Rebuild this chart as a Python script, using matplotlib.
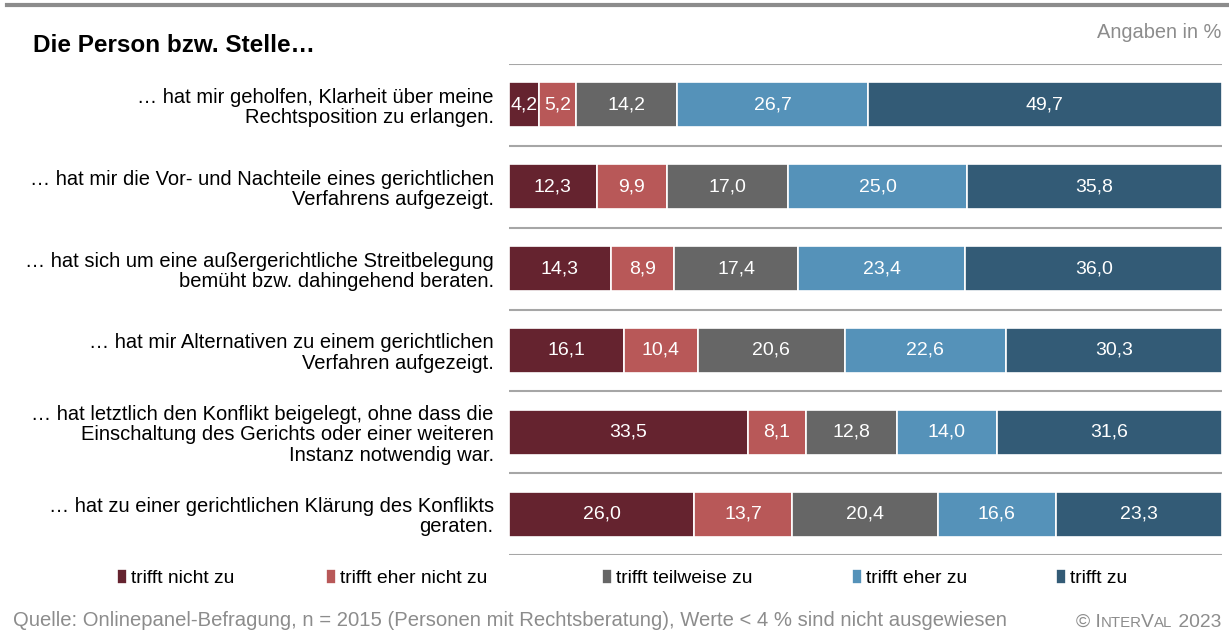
import numpy as np
import matplotlib
matplotlib.use("Agg")
import matplotlib.pyplot as plt

plt.rcParams['font.family'] = ['Liberation Sans', 'DejaVu Sans']

#
# Data
#
statements = [
    "… hat mir geholfen, Klarheit über meine\nRechtsposition zu erlangen.",
    "… hat mir die Vor- und Nachteile eines gerichtlichen\nVerfahrens aufgezeigt.",
    "… hat sich um eine außergerichtliche Streitbelegung\nbemüht bzw. dahingehend beraten.",
    "… hat mir Alternativen zu einem gerichtlichen\nVerfahren aufgezeigt.",
    "… hat letztlich den Konflikt beigelegt, ohne dass die\nEinschaltung des Gerichts oder einer weiteren\nInstanz notwendig war.",
    "… hat zu einer gerichtlichen Klärung des Konflikts\ngeraten.",
]
answers = ["trifft nicht zu", "trifft eher nicht zu", "trifft teilweise zu",
           "trifft eher zu", "trifft zu"]
nicht_zu = [4.2, 12.3, 14.3, 16.1, 33.5, 26.0]
eher_nicht_zu = [5.2, 9.9, 8.9, 10.4, 8.1, 13.7]
teilweise_zu = [14.2, 17.0, 17.4, 20.6, 12.8, 20.4]
eher_zu = [26.7, 25.0, 23.4, 22.6, 14.0, 16.6]
zu = [49.7, 35.8, 36.0, 30.3, 31.6, 23.3]

colors = ["#65232F", "#B85858", "#666666", "#5592B9", "#335B76"]

W, H = 1229, 634
fig = plt.figure(figsize=(W / 100, H / 100), dpi=100)
ax = fig.add_axes([509 / W, 1 - 555 / H, 713 / W, (555 - 64) / H])

series = [nicht_zu, eher_nicht_zu, teilweise_zu, eher_zu, zu]
y = np.arange(len(statements))
left = np.zeros(len(statements))
containers = []
for vals, col, name in zip(series, colors, answers):
    vals = np.array(vals)
    bc = ax.barh(y, vals, left=left, height=0.55, color=col,
                 edgecolor="white", linewidth=1.2, label=name)
    containers.append(bc)
    for yi, v, l in zip(y, vals, left):
        if v >= 4:
            ax.text(l + v / 2, yi, f"{v:.1f}".replace(".", ","),
                    ha="center", va="center", color="white", fontsize=14)
    left += vals

ax.set_xlim(0, 100)
ax.set_ylim(len(statements) - 0.5, -0.5)
for g in np.arange(-0.5, len(statements), 1.0):
    ax.axhline(g, color="#A6A6A6", lw=1.5, zorder=0)
for s in ax.spines.values():
    s.set_visible(False)
ax.set_xticks([])
ax.set_yticks(y)
ax.set_yticklabels(statements, fontsize=14.5, linespacing=1.08)
ax.tick_params(axis="y", length=0, pad=11)

#
# Texts
#
fig.add_artist(plt.Line2D([7 / W, 1.0], [1 - 5 / H, 1 - 5 / H],
                          color="#8C8C8C", lw=3))
fig.text(33 / W, 1 - 45 / H, "Die Person bzw. Stelle…", fontsize=17.5,
         fontweight="bold", va="center", ha="left")
fig.text(1221 / W, 1 - 32 / H, "Angaben in %", fontsize=14.4,
         color="#8C8C8C", va="center", ha="right")

# legend, one entry at a time
leg_x = [117, 326, 602, 852, 1056]
for bc, name, lx in zip(containers, answers, leg_x):
    lg = fig.legend(handles=[bc], labels=[name], loc="center left",
                    bbox_to_anchor=(lx / W, 1 - 578 / H), frameon=False,
                    fontsize=13.9, handlelength=0.5, handleheight=0.8,
                    handletextpad=0.25, borderpad=0, borderaxespad=0)

fig.text(13 / W, 1 - 621 / H,
         "Quelle: Onlinepanel-Befragung, n = 2015 (Personen mit Rechtsberatung), "
         "Werte < 4 % sind nicht ausgewiesen",
         fontsize=14.6, color="#8C8C8C", va="center", ha="left")

# © INTERVAL 2023 in small caps
pieces = [("© I", 13.9), ("NTER", 10.8), ("V", 13.9), ("AL", 10.8), (" 2023", 13.9)]
r = fig.canvas.get_renderer()
arts = []
for txt, fs in pieces:
    arts.append(fig.text(0, 1 - 621 / H, txt, fontsize=fs, color="#8C8C8C",
                         va="baseline", ha="left"))
widths = [a.get_window_extent(r).width for a in arts]
x = 1221 - sum(widths)
base = 1 - 627 / H
for a, w in zip(arts, widths):
    a.set_position((x / W, base))
    x += w

fig.savefig("out.png", dpi=100)
